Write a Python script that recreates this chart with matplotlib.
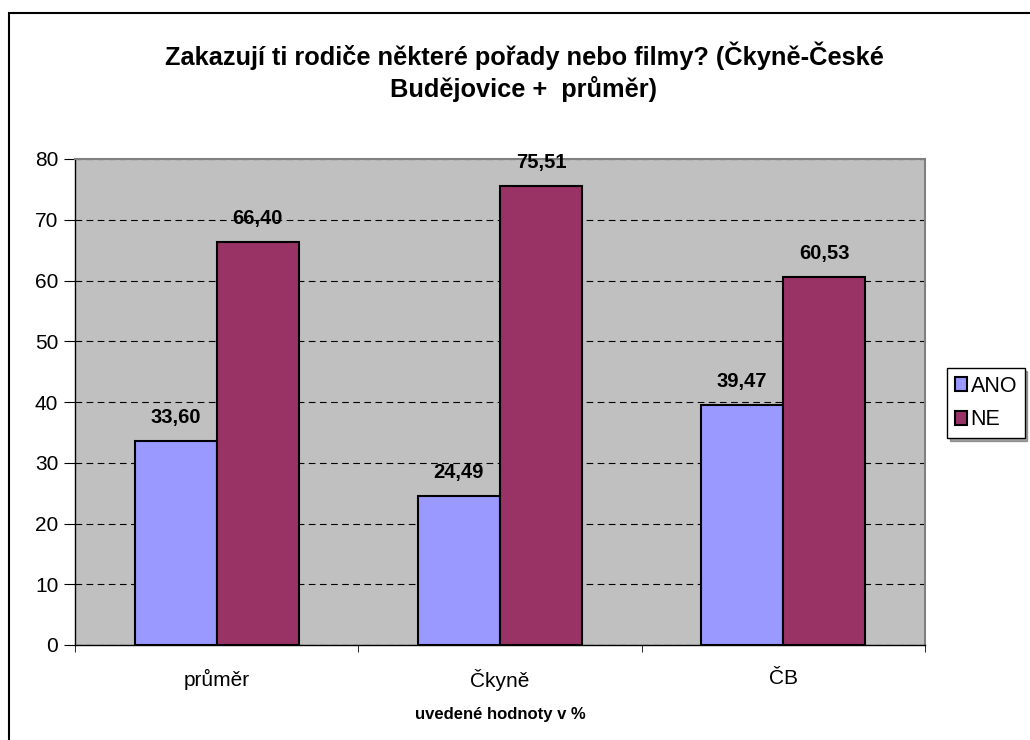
import numpy as np
import matplotlib.pyplot as plt
from matplotlib.patches import Rectangle

plt.rcParams['font.family'] = ['Liberation Sans', 'DejaVu Sans']

categories = ['průměr', 'Čkyně', 'ČB']
ano = [33.60, 24.49, 39.47]
ne = [66.40, 75.51, 60.53]
series_names = ['ANO', 'NE']
title = 'Zakazují ti rodiče některé pořady nebo filmy? (Čkyně-České\nBudějovice +  průměr)'
xlabel = 'uvedené hodnoty v %'

fig = plt.figure(figsize=(10.3, 7.4), dpi=100)
# outer chart border (only left/top visible in the crop)
fig.patches.append(Rectangle((9 / 1030, -0.1), 1.2, (740 - 13) / 740 + 0.1,
                             transform=fig.transFigure, fill=False,
                             edgecolor='black', linewidth=1.5))

ax = fig.add_axes([75 / 1030, 95 / 740, 850 / 1030, 486 / 740])
ax.set_facecolor('#C0C0C0')

x = np.arange(len(categories))
w = 0.29
b1 = ax.bar(x - w / 2, ano, w, color='#9999FF', edgecolor='black', linewidth=1.5, label=series_names[0], zorder=3)
b2 = ax.bar(x + w / 2, ne, w, color='#993366', edgecolor='black', linewidth=1.5, label=series_names[1], zorder=3)

for bars, vals in ((b1, ano), (b2, ne)):
    for r, v in zip(bars, vals):
        ax.annotate(('%.2f' % v).replace('.', ','), (r.get_x() + r.get_width() / 2, v),
                    xytext=(0, 17), textcoords='offset points', ha='center', va='center',
                    fontsize=14.5, fontweight='bold')

ax.set_xlim(-0.5, len(categories) - 0.5)
ax.set_ylim(0, 80)
ax.set_yticks(np.arange(0, 81, 10))
ax.yaxis.grid(True, linestyle=(0, (6, 4)), color='black', linewidth=0.8, zorder=1)
ax.set_axisbelow(True)

ax.set_xticks(x)
ax.set_xticklabels(categories, fontsize=15)
ax.set_xticks(np.arange(-0.5, len(categories)), minor=True)
ax.tick_params(axis='x', which='major', length=0, pad=17)
ax.tick_params(axis='x', which='minor', length=5, direction='out')
ax.tick_params(axis='y', labelsize=15, length=8, direction='out', pad=4)

for s in ('top', 'right'):
    ax.spines[s].set_color('#808080')
    ax.spines[s].set_linewidth(1.5)
for s in ('left', 'bottom'):
    ax.spines[s].set_color('black')
    ax.spines[s].set_linewidth(1)

ax.set_xlabel(xlabel, fontsize=12, fontweight='bold', labelpad=12)
fig.text(524 / 1030, 1 - 72 / 740, title, ha='center', va='center',
         fontsize=18.3, fontweight='bold', linespacing=1.3)

leg = fig.legend(handles=[b1, b2], labels=series_names, loc='upper left',
                 bbox_to_anchor=(947 / 1030, 1 - 368 / 740), fontsize=15.5,
                 frameon=True, fancybox=False, shadow=True, edgecolor='black',
                 handlelength=0.6, handleheight=0.6, handletextpad=0.15,
                 borderpad=0.35, labelspacing=0.6, borderaxespad=0)
leg.get_frame().set_linewidth(1)

fig.savefig('out.png', dpi=100)
